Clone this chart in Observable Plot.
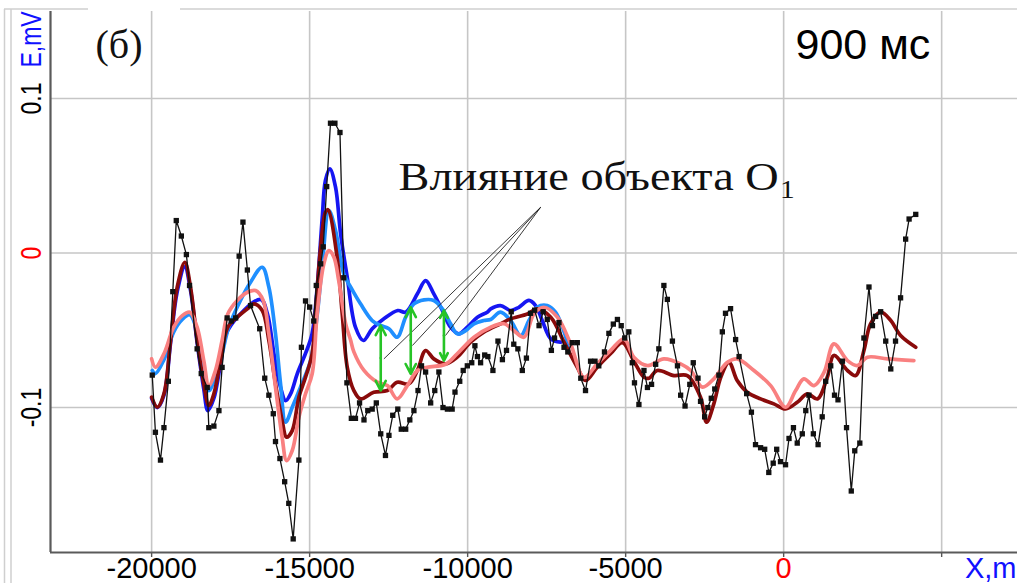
<!DOCTYPE html>
<html>
<head>
<meta charset="utf-8">
<script src="https://cdn.jsdelivr.net/npm/d3@7"></script>
<script src="https://cdn.jsdelivr.net/npm/@observablehq/plot@0.6"></script>
<style>
  html, body { margin: 0; padding: 0; background: #fff; }
  svg { display: block; }
</style>
</head>
<body>
<div id="chart"></div>
<script>
// Measured profile E (mV) along X (m), with markers
const measX = [-19980,-19880,-19720,-19610,-19470,-19330,-19220,-19060,-18900,-18800,-18560,-18430,-18240,-18190,-18030,-17870,-17770,-17610,-17480,-17340,-17230,-17110,-16970,-16870,-16580,-16420,-16290,-16150,-16080,-15940,-15790,-15660,-15520,-15340,-15260,-15130,-15000,-14870,-14790,-14650,-14570,-14460,-14340,-14200,-14040,-13920,-13820,-13680,-13550,-13420,-13280,-13160,-13020,-12890,-12750,-12600,-12490,-12370,-12210,-12100,-11960,-11830,-11700,-11570,-11460,-11330,-11170,-11040,-10910,-10780,-10640,-10490,-10400,-10250,-10140,-10010,-9870,-9770,-9690,-9590,-9460,-9360,-9200,-9040,-8900,-8770,-8620,-8540,-8410,-8270,-8140,-8010,-7880,-7740,-7610,-7480,-7350,-7250,-7110,-6950,-6830,-6690,-6530,-6420,-6270,-6110,-5970,-5850,-5670,-5530,-5390,-5260,-5140,-5030,-4900,-4790,-4720,-4580,-4420,-4310,-4180,-4050,-3950,-3790,-3680,-3520,-3360,-3260,-3120,-2970,-2860,-2710,-2630,-2500,-2400,-2290,-2180,-2050,-1940,-1840,-1680,-1520,-1410,-1170,-1020,-890,-730,-600,-470,-330,-220,-100,60,170,310,430,590,700,800,940,1090,1220,1330,1490,1610,1720,1860,1990,2140,2250,2410,2540,2700,2810,2910,3070,3230,3390,3540,3700,3860,3970,4180];
const measE = [-0.079,-0.116,-0.134,-0.113,-0.083,-0.025,0.021,0.011,-0.001,-0.021,-0.062,-0.078,-0.087,-0.113,-0.112,-0.102,-0.074,-0.042,-0.044,-0.042,-0.002,0.020,-0.011,-0.034,-0.049,-0.081,-0.092,-0.104,-0.122,-0.133,-0.148,-0.162,-0.185,-0.134,-0.061,-0.031,-0.035,-0.044,-0.021,-0.007,0.004,0.043,0.084,0.084,0.078,-0.016,-0.084,-0.107,-0.107,-0.097,-0.108,-0.102,-0.101,-0.097,-0.117,-0.131,-0.118,-0.105,-0.101,-0.114,-0.114,-0.108,-0.102,-0.089,-0.073,-0.077,-0.097,-0.089,-0.077,-0.100,-0.101,-0.101,-0.090,-0.083,-0.076,-0.073,-0.071,-0.060,-0.067,-0.071,-0.066,-0.067,-0.076,-0.057,-0.069,-0.063,-0.038,-0.059,-0.062,-0.076,-0.068,-0.039,-0.037,-0.047,-0.038,-0.043,-0.063,-0.055,-0.045,-0.061,-0.064,-0.058,-0.058,-0.081,-0.089,-0.070,-0.070,-0.073,-0.064,-0.052,-0.046,-0.043,-0.047,-0.055,-0.051,-0.071,-0.084,-0.098,-0.076,-0.087,-0.085,-0.072,-0.062,-0.021,-0.030,-0.057,-0.073,-0.092,-0.099,-0.085,-0.071,-0.081,-0.096,-0.106,-0.100,-0.094,-0.088,-0.079,-0.051,-0.039,-0.036,-0.056,-0.067,-0.091,-0.103,-0.124,-0.126,-0.127,-0.142,-0.136,-0.127,-0.135,-0.137,-0.120,-0.113,-0.123,-0.117,-0.102,-0.092,-0.117,-0.124,-0.106,-0.083,-0.073,-0.092,-0.095,-0.070,-0.113,-0.154,-0.128,-0.123,-0.055,-0.022,-0.047,-0.041,-0.038,-0.057,-0.075,-0.057,-0.029,0.009,0.022,0.025];

// Model response with the object (dark blue)
const blueX = [-20000,-19820,-19610,-19400,-19190,-18950,-18770,-18560,-18350,-18220,-18030,-17820,-17590,-16550,-16340,-16130,-15920,-15760,-15600,-15390,-15130,-14920,-14760,-14600,-14500,-14360,-14180,-14020,-13810,-13550,-13300,-13020,-12650,-12210,-11960,-11590,-11330,-11070,-10800,-10540,-10280,-10010,-9690,-9380,-9270,-8960,-8640,-8380,-8060,-7850,-7640,-7370,-7060];
const blueE = [-0.094,-0.100,-0.092,-0.058,-0.025,-0.009,-0.024,-0.058,-0.088,-0.102,-0.094,-0.072,-0.050,-0.030,-0.039,-0.065,-0.087,-0.0955,-0.091,-0.078,-0.065,-0.052,-0.022,0.023,0.047,0.0545,0.0426,0.0124,-0.0157,-0.048,-0.0566,-0.049,-0.0426,-0.0372,-0.0383,-0.0264,-0.0178,-0.0264,-0.0372,-0.048,-0.0523,-0.048,-0.0415,-0.0383,-0.0361,-0.034,-0.0372,-0.0351,-0.0307,-0.034,-0.0437,-0.0555,-0.0577];

// Second model response with the object (light blue)
const skyX = [-19980,-19880,-19610,-19300,-19030,-18790,-18560,-18350,-18190,-17980,-17770,-17560,-17190,-16870,-16500,-16290,-16080,-15920,-15760,-15550,-15290,-14970,-14760,-14590,-14390,-14180,-13920,-13700,-13390,-13020,-12750,-12490,-12230,-11960,-11700,-11380,-11070,-10800,-10540,-10330,-10060,-9800,-9490,-9270,-8960,-8640,-8320,-8060,-7800,-7480,-7220,-7000,-6800];
const skyE = [-0.076,-0.078,-0.069,-0.051,-0.043,-0.040,-0.051,-0.074,-0.089,-0.080,-0.0652,-0.048,-0.0307,-0.0189,-0.0092,-0.0221,-0.0523,-0.0847,-0.1095,-0.0998,-0.0868,-0.0696,-0.040,-0.005,0.0275,0.0146,-0.0135,-0.0221,-0.0329,-0.0437,-0.0469,-0.049,-0.0545,-0.0415,-0.0329,-0.0303,-0.0307,-0.0361,-0.0458,-0.0523,-0.0502,-0.0458,-0.0437,-0.043,-0.0383,-0.0437,-0.0534,-0.0437,-0.0351,-0.034,-0.0383,-0.048,-0.061];

// Background model response (dark red)
const maroonX = [-20000,-19820,-19610,-19400,-19190,-18950,-18770,-18560,-18350,-18190,-18030,-17820,-17590,-17290,-16970,-16770,-16500,-16290,-16080,-15870,-15730,-15550,-15340,-15130,-14920,-14810,-14650,-14500,-14420,-14130,-13970,-13810,-13600,-13390,-12970,-12540,-12230,-11860,-11590,-11330,-11070,-10700,-10330,-9910,-9490,-8960,-8640,-8110,-7800,-7370,-6950,-6530,-6270,-5900,-5480,-5100,-4740,-4420,-4260,-4000,-3470,-3050,-2630,-2440,-2210,-1990,-1730,-1470,-1150,-730,-310,60,430,750,1070,1380,1590,2020,2280,2540,2750,3070,3390,3700,4180];
const maroonE = [-0.0933,-0.0998,-0.0911,-0.0566,-0.0221,-0.006,-0.0221,-0.0566,-0.0847,-0.0987,-0.0911,-0.0696,-0.048,-0.0415,-0.0361,-0.0329,-0.0372,-0.0566,-0.0847,-0.1084,-0.1192,-0.1149,-0.0933,-0.0804,-0.0652,-0.037,0.004,0.0264,0.028,-0.0027,-0.039,-0.0739,-0.089,-0.0944,-0.0901,-0.089,-0.0836,-0.0847,-0.076,-0.0631,-0.0685,-0.0717,-0.0674,-0.0577,-0.0512,-0.0458,-0.0426,-0.0394,-0.0361,-0.0415,-0.0577,-0.0739,-0.0825,-0.0739,-0.0652,-0.058,-0.070,-0.0804,-0.081,-0.076,-0.0793,-0.0793,-0.0933,-0.1095,-0.0976,-0.0804,-0.0707,-0.0825,-0.0901,-0.0944,-0.0976,-0.1009,-0.0966,-0.0911,-0.0944,-0.0804,-0.0663,-0.076,-0.0793,-0.0631,-0.0458,-0.0383,-0.0437,-0.0534,-0.061];

// Second background model response (pink)
const pinkX = [-20000,-19880,-19610,-19300,-19030,-18790,-18560,-18350,-18190,-17980,-17770,-17590,-17290,-16970,-16710,-16470,-16290,-16080,-15870,-15730,-15550,-15340,-15130,-14920,-14760,-14550,-14390,-14230,-14080,-13860,-13700,-13600,-13280,-12860,-12540,-12230,-11910,-11590,-11280,-10700,-10330,-9800,-9270,-8850,-8540,-8220,-7900,-7590,-7160,-6740,-6320,-5900,-5480,-5050,-4740,-4310,-3790,-3260,-2940,-2570,-2210,-1780,-1470,-940,-410,60,380,640,960,1280,1590,2020,2330,2650,3280,4120];
const pinkE = [-0.0685,-0.0739,-0.0652,-0.048,-0.0405,-0.0383,-0.048,-0.0696,-0.0858,-0.076,-0.0566,-0.0394,-0.0307,-0.0254,-0.0243,-0.0307,-0.0523,-0.0868,-0.1192,-0.1343,-0.1278,-0.1063,-0.0911,-0.0782,-0.039,-0.007,0.0016,-0.0027,-0.0178,-0.0458,-0.0566,-0.064,-0.076,-0.0836,-0.0858,-0.0944,-0.0858,-0.076,-0.0739,-0.072,-0.0652,-0.0545,-0.048,-0.0458,-0.0502,-0.0545,-0.0394,-0.0351,-0.0415,-0.0588,-0.0804,-0.0717,-0.0631,-0.0555,-0.0674,-0.0728,-0.0685,-0.0717,-0.076,-0.0868,-0.0814,-0.0707,-0.0685,-0.076,-0.0858,-0.0998,-0.089,-0.0814,-0.0858,-0.0771,-0.0588,-0.0696,-0.0728,-0.0674,-0.0685,-0.0696];

// Axes
const xTicks = [-20000, -15000, -10000, -5000, 0, 5000];
const xTickLabels = ["-20000", "-15000", "-10000", "-5000", "0"];
const yTicks = [0.1, 0, -0.1];
const yTickLabels = ["0.1", "0", "-0.1"];

// Object influence: double arrows between the curves and leader lines to the caption
const arrowX = [-12750, -11800, -10750];
const arrowTop = [-0.0469, -0.0351, -0.0372];
const arrowBottom = [-0.089, -0.0782, -0.0696];
const leaderFromX = -7690, leaderFromE = 0.0296;
const leaderToX = [-12650, -11750, -10700];
const leaderToE = [-0.0685, -0.0599, -0.0534];
const captionX = -12185, captionE = 0.0405;

const series = (xs, es) => xs.map((x, i) => ({x, e: es[i]}));
const meas = series(measX, measE);
const arrows = arrowX.map((x, i) => ({x, top: arrowTop[i], bottom: arrowBottom[i], mid: (arrowTop[i] + arrowBottom[i]) / 2}));
const leaders = leaderToX.map((x, i) => ({x1: leaderFromX, y1: leaderFromE, x2: x, y2: leaderToE[i]}));
const xLabels = xTickLabels.map((t, i) => ({x: xTicks[i], t, c: t === "0" ? "#ff0000" : "#000000"}));
const yLabels = yTickLabels.map((t, i) => ({y: yTicks[i], t, c: t === "0" ? "#ff0000" : "#000000"}));

const curve = (data, color) => Plot.line(data, {x: "x", y: "e", stroke: color, strokeWidth: 3.7, curve: "catmull-rom", strokeLinejoin: "round", strokeLinecap: "round"});
const green = "#26c426";

const chart = Plot.plot({
  width: 1017,
  height: 583,
  marginLeft: 50,
  marginRight: 0,
  marginTop: 11,
  marginBottom: 31,
  x: {domain: [-23200, 7400], axis: null},
  y: {domain: [-0.1938, 0.1563], axis: null},
  style: {background: "#ffffff", fontFamily: "'Liberation Sans', Arial, sans-serif"},
  marks: [
    Plot.gridX(xTicks, {stroke: "#c6c6c6", strokeOpacity: 1, strokeWidth: 1.6}),
    Plot.gridY(yTicks, {stroke: "#c6c6c6", strokeOpacity: 1, strokeWidth: 1.6}),
    Plot.axisX(xTicks, {tickSize: 5, tickFormat: () => "", stroke: "#555", strokeWidth: 1.4, label: null}),
    Plot.ruleX([-23200], {stroke: "#5a5a5a", strokeWidth: 2.2}),
    Plot.ruleY([-0.1938], {stroke: "#5a5a5a", strokeWidth: 2.2}),

    curve(series(blueX, blueE), "#1616f2"),
    curve(series(skyX, skyE), "#1f8fff"),
    curve(series(maroonX, maroonE), "#8a0b0b"),
    curve(series(pinkX, pinkE), "#f98080"),

    Plot.line(meas, {x: "x", y: "e", stroke: "#111", strokeWidth: 1.3}),
    Plot.dot(meas, {x: "x", y: "e", symbol: "square", r: 3, fill: "#111", stroke: null}),

    Plot.link(leaders, {x1: "x1", y1: "y1", x2: "x2", y2: "y2", stroke: "#222", strokeWidth: 0.9}),
    Plot.arrow(arrows, {x1: "x", y1: "mid", x2: "x", y2: "top", stroke: green, strokeWidth: 2.6, headLength: 13, headAngle: 55}),
    Plot.arrow(arrows, {x1: "x", y1: "mid", x2: "x", y2: "bottom", stroke: green, strokeWidth: 2.6, headLength: 13, headAngle: 55}),

    Plot.text(["Влияние объекта O"], {x: () => captionX, y: () => captionE, text: d => d, textAnchor: "start", lineAnchor: "bottom", fontSize: 41, fontFamily: "'Liberation Serif', 'Times New Roman', serif", fill: "#111"}),
    Plot.text(["(б)"], {frameAnchor: "top-left", text: d => d, textAnchor: "start", lineAnchor: "bottom", dx: 45, dy: 46, fontSize: 40, fontFamily: "'Liberation Serif', 'Times New Roman', serif", fill: "#111"}),
    Plot.text(["900 мс"], {frameAnchor: "top-left", text: d => d, textAnchor: "start", lineAnchor: "bottom", dx: 745, dy: 47, fontSize: 43, fill: "#000"}),

    Plot.text(xLabels, {x: "x", frameAnchor: "bottom", text: "t", fill: "c", textAnchor: "middle", lineAnchor: "bottom", dy: 25, fontSize: 29}),
    Plot.text(["X,m"], {frameAnchor: "bottom-right", text: d => d, fill: "#1010ff", textAnchor: "end", lineAnchor: "bottom", dx: -1, dy: 25, fontSize: 29}),
    Plot.text(yLabels, {y: "y", frameAnchor: "left", text: "t", fill: "c", rotate: -90, textAnchor: "middle", lineAnchor: "middle", dx: -19, fontSize: 23}),
    Plot.text(["E,mV"], {frameAnchor: "top-left", text: d => d, fill: "#1010ff", rotate: -90, textAnchor: "middle", lineAnchor: "middle", dx: -19, dy: 28, fontSize: 23})
  ]
});

document.getElementById("chart").appendChild(chart);

const svg = d3.select(chart);

// Rotated axis labels use a tall, narrow glyph shape
svg.selectAll("text").each(function () {
  const t = this.getAttribute("transform");
  if (t && t.includes("rotate")) this.setAttribute("transform", t + " scale(1,1.3)");
});

// Caption: wide serif lettering and the subscript index of the object name
svg.selectAll("text").filter(function () { return this.textContent === "Влияние объекта O"; })
  .each(function () {
    const t = this.getAttribute("transform") || "";
    this.setAttribute("transform", t + " scale(1.13,1)");
  })
  .append("tspan").attr("font-size", 26).attr("dy", "0.28em").attr("dx", 1).text("1");

// Window border
const border = svg.append("g").attr("stroke", "#cfcfcf").attr("stroke-width", 1.5).attr("fill", "none");
border.append("line").attr("x1", 4).attr("y1", 9).attr("x2", 88).attr("y2", 9);
border.append("line").attr("x1", 180).attr("y1", 9).attr("x2", 1017).attr("y2", 9);
border.append("line").attr("x1", 4.5).attr("y1", 9).attr("x2", 4.5).attr("y2", 583);
border.append("line").attr("x1", 11).attr("y1", 9).attr("x2", 11).attr("y2", 583);
</script>
</body>
</html>
